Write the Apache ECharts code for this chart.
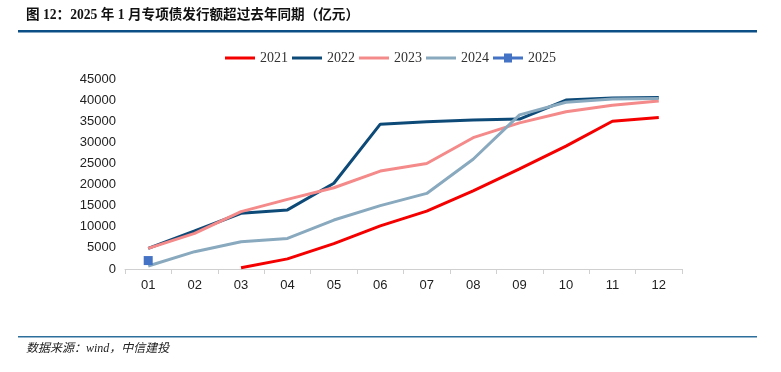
<!DOCTYPE html>
<html><head><meta charset="utf-8">
<script src="https://cdn.jsdelivr.net/npm/echarts@6/dist/echarts.min.js"></script>
<style>html,body{margin:0;padding:0;background:#fff}#c{width:781px;height:372px}</style>
</head><body><div id="c"></div>
<script>
const months = ['01','02','03','04','05','06','07','08','09','10','11','12'];
const s2021 = [null, null, 300, 2400, 6000, 10200, 13700, 18500, 23700, 29100, 35000, 35900];
const s2022 = [4900, 9000, 13200, 14000, 20300, 34300, 34900, 35300, 35500, 40000, 40500, 40600];
const s2023 = [4900, 8450, 13600, 16500, 19250, 23200, 25000, 31100, 34600, 37250, 38800, 39800];
const s2024 = [700, 4100, 6450, 7250, 11600, 15000, 17900, 26000, 36500, 39500, 40250, 40400];
const s2025 = [2000];
const yTicks = {min: 0, max: 45000, interval: 5000};

const chart = echarts.init(document.getElementById('c'));
const line = (name, data, color, z) => ({
  name, type: 'line', data, z,
  symbol: 'none', showSymbol: false,
  lineStyle: {color, width: 3}, itemStyle: {color},
  connectNulls: false, animation: false
});
chart.setOption({
  animation: false,
  graphic: [
    {type: 'text', left: 26, top: 9, style: {text: '图 12：2025 年 1 月专项债发行额超过去年同期（亿元）', font: 'bold 13.6px "Liberation Serif", "Noto Sans CJK SC"', fill: '#111'}},
    {type: 'rect', shape: {x: 18, y: 30, width: 739, height: 2.5}, style: {fill: '#0B4F86'}},
    {type: 'rect', shape: {x: 18, y: 336, width: 739, height: 1.5}, style: {fill: '#2C6E9C'}},
    {type: 'text', left: 26, top: 343, style: {text: '数据来源：wind，中信建投', font: 'italic 12px "Liberation Serif", "Noto Sans CJK SC"', fill: '#222'}}
  ],
  legend: {
    top: 46, left: 'center',
    itemWidth: 30, itemHeight: 10, itemGap: 4,
    textStyle: {fontFamily: 'Liberation Serif', fontSize: 14, color: '#333'},
    data: [
      {name: '2021', icon: 'path://M0,4 L30,4 L30,7 L0,7 Z'},
      {name: '2022', icon: 'path://M0,4 L30,4 L30,7 L0,7 Z'},
      {name: '2023', icon: 'path://M0,4 L30,4 L30,7 L0,7 Z'},
      {name: '2024', icon: 'path://M0,4 L30,4 L30,7 L0,7 Z'},
      {name: '2025', icon: 'path://M0,4 L11,4 L11,1 L19,1 L19,4 L30,4 L30,7 L19,7 L19,10 L11,10 L11,7 L0,7 Z'}
    ]
  },
  grid: {left: 125, right: 99, top: 79, bottom: 103, containLabel: false},
  xAxis: {
    type: 'category', data: months, boundaryGap: true,
    axisLine: {lineStyle: {color: '#d0d0d0', width: 1}},
    axisTick: {show: true, length: 5, lineStyle: {color: '#d0d0d0'}},
    axisLabel: {color: '#222', fontFamily: 'Liberation Sans', fontSize: 13, margin: 10}
  },
  yAxis: {
    type: 'value', min: yTicks.min, max: yTicks.max, interval: yTicks.interval,
    splitLine: {show: false}, axisLine: {show: false}, axisTick: {show: false},
    axisLabel: {color: '#222', fontFamily: 'Liberation Sans', fontSize: 13, margin: 9, formatter: v => String(v)}
  },
  series: [
    line('2021', s2021, '#F50000', 5),
    line('2022', s2022, '#0E4A78', 3),
    line('2023', s2023, '#F58A8A', 4),
    line('2024', s2024, '#89A9BF', 6),
    {name: '2025', type: 'line', data: s2025, symbol: 'rect', symbolSize: 9, showSymbol: true,
     lineStyle: {color: '#4472C4', width: 3}, itemStyle: {color: '#4472C4'}, z: 7}
  ]
});
</script></body></html>
